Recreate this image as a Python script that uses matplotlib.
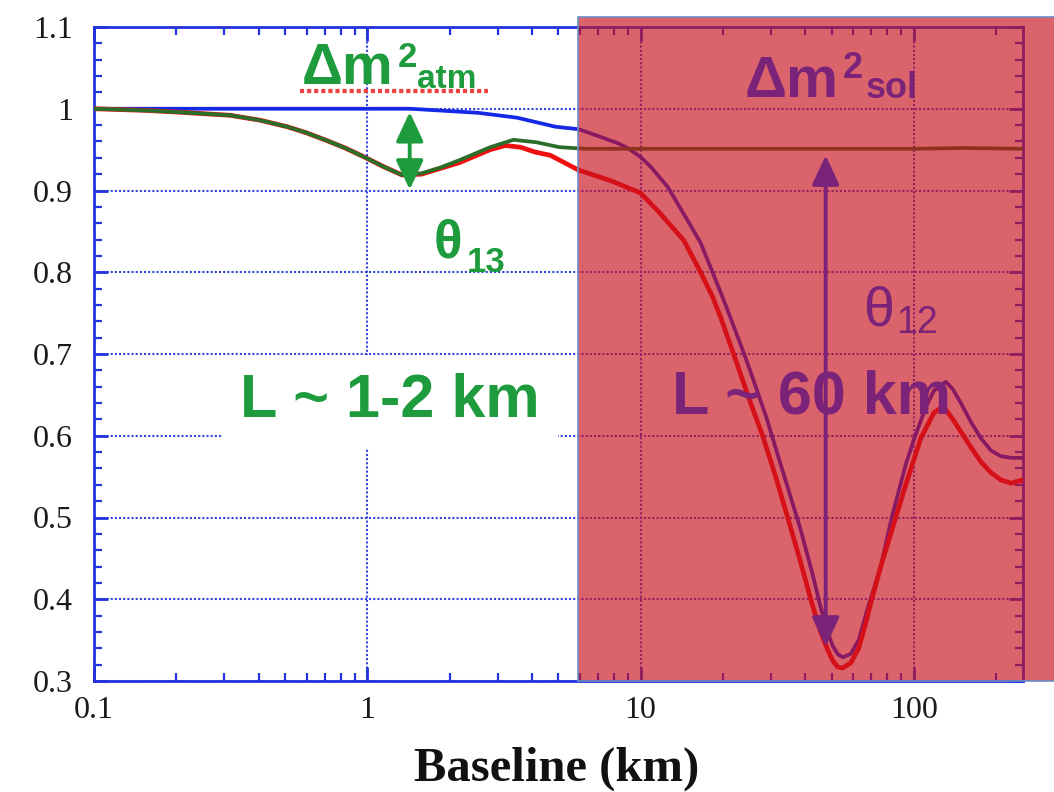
"""
Reactor anti-neutrino survival probability vs. baseline.

Three cases: theta12 only (blue), theta13 only (green), both (red),
with the long-baseline (solar) region shaded.
Output: out.png
"""
import matplotlib
matplotlib.use("Agg")
import matplotlib.pyplot as plt
from matplotlib.lines import Line2D
from matplotlib.patches import Rectangle
from matplotlib.ticker import FixedLocator, LogLocator, MultipleLocator, NullFormatter

# ── Data (km, survival probability) ───────────────────────────────────────────
theta12_km = [0.1, 1.44, 2.55, 3.54, 4.88, 5.93, 6.56, 8.24, 8.96, 10, 10.9,
              12.6, 15.2, 16.59, 18.35, 20.48, 23.64, 25.29, 28.71, 31.23,
              35.44, 38.56, 42.66, 45.63, 48.41, 50.49, 52.66, 54.93, 58.76,
              62.87, 67.25, 75.69, 83.06, 93.48, 100, 110.7, 118.4, 131.0,
              139.0, 148.7, 161.8, 176.0, 191.5, 208.3, 226.6, 250.7]
theta12_p  = [1.0, 1.0, 0.995, 0.989, 0.978, 0.975, 0.970, 0.958, 0.952, 0.941,
              0.929, 0.904, 0.858, 0.836, 0.800, 0.760, 0.705, 0.678, 0.625,
              0.585, 0.525, 0.485, 0.430, 0.390, 0.360, 0.343, 0.333, 0.329,
              0.333, 0.350, 0.385, 0.440, 0.500, 0.565, 0.595, 0.635, 0.655,
              0.666, 0.657, 0.640, 0.617, 0.597, 0.582, 0.575, 0.573, 0.573]

theta13_km = [0.1, 0.154, 0.2, 0.315, 0.405, 0.509, 0.594, 0.70, 0.83, 0.975,
              1.15, 1.34, 1.58, 1.85, 2.17, 2.82, 3.43, 4.16, 5.05, 6.29, 10,
              30, 100, 150, 250.7]
theta13_p  = [1.0, 0.998, 0.996, 0.992, 0.986, 0.978, 0.971, 0.962, 0.952,
              0.941, 0.929, 0.919, 0.921, 0.928, 0.937, 0.953, 0.962, 0.959,
              0.953, 0.951, 0.951, 0.951, 0.951, 0.952, 0.951]

both_km = [0.1, 0.154, 0.2, 0.315, 0.405, 0.509, 0.594, 0.70, 0.83, 0.975,
           1.15, 1.34, 1.58, 1.85, 2.17, 2.82, 3.2, 3.63, 4.12, 4.68, 5.93,
           7.78, 10, 11.8, 14.4, 16.59, 18.35, 19.63, 21.91, 23.64, 25.29,
           27.99, 31.23, 34.56, 38.56, 41.95, 45.63, 48.41, 50.49, 52.66,
           54.93, 58.76, 62.87, 67.25, 69.56, 75.69, 85.92, 93.48, 106.1,
           118.4, 125.6, 131.0, 139.0, 148.7, 161.8, 176.0, 191.5, 208.3,
           226.6, 250.7]
both_p  = [1.0, 0.998, 0.996, 0.992, 0.986, 0.978, 0.971, 0.962, 0.952, 0.941,
           0.929, 0.919, 0.920, 0.927, 0.934, 0.950, 0.955, 0.953, 0.947, 0.943,
           0.925, 0.912, 0.897, 0.872, 0.839, 0.800, 0.770, 0.745, 0.700,
           0.668, 0.640, 0.600, 0.550, 0.500, 0.445, 0.400, 0.360, 0.338,
           0.325, 0.317, 0.316, 0.322, 0.340, 0.375, 0.395, 0.440, 0.500,
           0.540, 0.597, 0.628, 0.634, 0.632, 0.620, 0.605, 0.586, 0.568,
           0.555, 0.546, 0.542, 0.546]

x_ticks       = [0.1, 1, 10, 100]
x_tick_labels = ["0.1", "1", "10", "100"]
y_ticks       = [0.3, 0.4, 0.5, 0.6, 0.7, 0.8, 0.9, 1.0, 1.1]
y_tick_labels = ["0.3", "0.4", "0.5", "0.6", "0.7", "0.8", "0.9", "1", "1.1"]

# arrows: (x, y_top, y_bottom)
atm_arrow = (1.43, 0.996, 0.901)
sol_arrow = (47.6, 0.943, 0.342)

# ── Style ─────────────────────────────────────────────────────────────────────
BLUE       = "#1428E6"
RED        = "#F01010"
DKGREEN    = "#2A6E2A"
GREEN      = "#1E9B3C"
PURPLE     = "#7A2378"
FRAME      = "#2233DD"
SANS       = ["Liberation Sans", "DejaVu Sans"]
SERIF      = ["Liberation Serif", "DejaVu Serif"]

W, H = 1054, 792

def px(x, y):
    """Pixel position (top-left origin) -> figure fraction."""
    return x / W, 1 - y / H

fig = plt.figure(figsize=(W / 100, H / 100), dpi=100)
ax = fig.add_axes([94 / W, 1 - 681 / H, 929 / W, 654 / H])

# ── Curves ────────────────────────────────────────────────────────────────────
ax.plot(theta12_km, theta12_p, color=BLUE, lw=2.7, zorder=3)
ax.plot(both_km, both_p, color=RED, lw=3.4, zorder=3)
ax.plot(theta13_km, theta13_p, color=DKGREEN, lw=2.7, zorder=3)

ax.set_xscale("log")
ax.set_xlim(0.1, 251)
ax.set_ylim(0.3, 1.1)

# ── Axes, ticks, grid ─────────────────────────────────────────────────────────
ax.xaxis.set_major_locator(FixedLocator(x_ticks))
ax.set_xticklabels(x_tick_labels)
ax.xaxis.set_minor_locator(LogLocator(base=10, subs=range(2, 10)))
ax.xaxis.set_minor_formatter(NullFormatter())
ax.yaxis.set_major_locator(FixedLocator(y_ticks))
ax.set_yticklabels(y_tick_labels)
ax.yaxis.set_minor_locator(MultipleLocator(0.02))

for lab in ax.get_xticklabels() + ax.get_yticklabels():
    lab.set_family(SERIF)
    lab.set_fontsize(23)
    lab.set_color("#1a1a1a")

ax.tick_params(which="both", direction="in", top=True, right=True, color=FRAME)
ax.tick_params(which="major", length=10, width=2)
ax.tick_params(which="minor", length=6, width=1.6)
ax.tick_params(axis="y", pad=15)
ax.tick_params(axis="x", pad=11)
for sp in ax.spines.values():
    sp.set_color(FRAME)
    sp.set_linewidth(2)

ax.grid(True, which="major", color="#3344DD", linestyle=(0, (1, 1)), lw=1.5)

# ── Shaded solar region ───────────────────────────────────────────────────────
x0 = (578 - 94) / 929
ax.add_patch(Rectangle((x0, 0), 1.06 - x0, (681 - 17) / 654,
                       transform=ax.transAxes, clip_on=False, zorder=4,
                       facecolor=(200 / 255, 17 / 255, 29 / 255, 0.65),
                       edgecolor="#6A8CC4", lw=1.2))

# ── Arrows ────────────────────────────────────────────────────────────────────
def double_arrow(x, y1, y2, color):
    ax.annotate("", xy=(x, y1), xytext=(x, y2), zorder=5,
                arrowprops=dict(arrowstyle="<|-|>,head_length=0.9,head_width=0.42",
                                mutation_scale=20, lw=2.8, color=color,
                                shrinkA=0, shrinkB=0))

double_arrow(*atm_arrow, GREEN)
double_arrow(*sol_arrow, PURPLE)

# ── Labels ────────────────────────────────────────────────────────────────────
def label(x, y, s, size, color, weight="bold", **kw):
    fig.text(*px(x, y), s, fontsize=size, color=color, fontweight=weight,
             family=SANS, ha="left", va="baseline", **kw)

label(302, 84, "Δm", 41, GREEN)
label(398, 67, "2", 25, GREEN)
label(417, 88, "atm", 24, GREEN)
fig.add_artist(Line2D([300 / W, 488 / W], [1 - 91 / H] * 2, color="#F04040",
                      lw=3, linestyle=(0, (1, 0.7))))

label(745, 97, "Δm", 42, PURPLE)
label(843, 78, "2", 26, PURPLE)
label(866, 98, "sol", 26, PURPLE)

label(434, 257, "θ", 38, GREEN)
label(467, 272, "13", 25, GREEN)

label(863, 325, "θ", 40, PURPLE, weight="normal")
label(896, 333, "12", 27, PURPLE, weight="normal")

label(240, 417, "L ~ 1-2 km", 44, GREEN,
      bbox=dict(boxstyle="square,pad=0.3", fc="white", ec="none"))
label(672, 413, "L ~ 60 km", 44, PURPLE)

fig.text(*px(557, 781), "Baseline (km)", fontsize=35, fontweight="bold",
         family=SERIF, ha="center", va="baseline", color="#111111")

fig.savefig("out.png", dpi=100)
